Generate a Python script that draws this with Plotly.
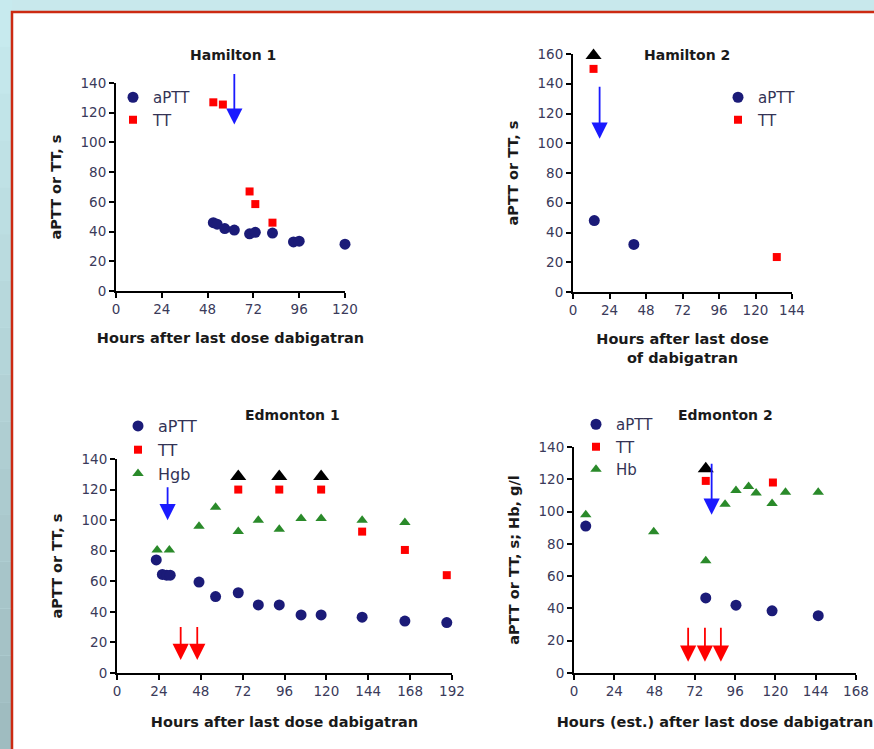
import plotly.graph_objects as go

W, H = 874, 749

# ---------------- data ----------------
h1_aptt_x = [51, 53, 57, 62, 70, 73, 82, 93, 96, 120]
h1_aptt_y = [46, 45, 42, 41, 38.5, 39.5, 39, 33, 33.5, 31.5]
h1_tt_x = [51, 56, 70, 73, 82]
h1_tt_y = [127, 125.5, 67, 58.5, 46]
h1_blue_arrow = dict(x=[62], y_from=[147], y_to=[112])

h2_aptt_x = [14, 40]
h2_aptt_y = [48, 32]
h2_tt_x = [13.5, 134]
h2_tt_y = [150, 23.5]
h2_over_x = [13.5]
h2_over_y = [159]
h2_blue_arrow = dict(x=[17.5], y_from=[139], y_to=[103])

e1_aptt_x = [22.5, 26, 28.5, 30.5, 47, 56.5, 69.5, 81, 93, 105.5, 117, 140.5, 165, 189]
e1_aptt_y = [74, 64.5, 64, 64, 59.5, 50, 52.5, 44.5, 44.5, 38, 38, 36.5, 34, 33]
e1_tt_x = [69.5, 93, 117, 140.5, 165, 189]
e1_tt_y = [120, 120, 120, 92.5, 80.5, 64]
e1_hgb_x = [23, 30, 47, 56.5, 69.5, 81, 93, 105.5, 117, 140.5, 165]
e1_hgb_y = [80.5, 80.5, 96, 108.5, 92.5, 100, 94, 101, 101, 100, 98.5]
e1_over_x = [69.5, 93, 117]
e1_over_y = [128.5, 128.5, 128.5]
e1_blue_arrow = dict(x=[29], y_from=[122.5], y_to=[100])
e1_red_arrows = dict(x=[36.5, 46], y_from=[31, 31], y_to=[8.5, 8.5])

e2_aptt_x = [7, 78.5, 96.5, 118, 145.5]
e2_aptt_y = [91, 46.5, 42, 38.5, 35.5]
e2_tt_x = [78.5, 118.5]
e2_tt_y = [119, 118]
e2_hb_x = [7, 47.5, 78.5, 90, 96.5, 104, 108.5, 118, 126, 145.5]
e2_hb_y = [98, 87.5, 69.5, 104.5, 113, 115.5, 111.5, 105, 112, 112]
e2_over_x = [78.5]
e2_over_y = [126.5]
e2_blue_arrow = dict(x=[82], y_from=[130.5], y_to=[98])
e2_red_arrows = dict(x=[68, 78, 87.5], y_from=[29, 29, 29], y_to=[7, 7, 7])

ticks_h1 = [0, 24, 48, 72, 96, 120]
ticks_h2 = [0, 24, 48, 72, 96, 120, 144]
ticks_e1 = [0, 24, 48, 72, 96, 120, 144, 168, 192]
ticks_e2 = [0, 24, 48, 72, 96, 120, 144, 168]
yt_140 = [0, 20, 40, 60, 80, 100, 120, 140]
yt_160 = [0, 20, 40, 60, 80, 100, 120, 140, 160]

# ---------------- styles ----------------
NAVY = "#1b1b78"
RED = "#ff0000"
GREEN = "#2a8a2a"
BLUE = "#1a1aff"
FONT = "DejaVu Sans, Liberation Sans, Arial, sans-serif"
TICKC = "#3a3a5a"


def px_x(p):
    return p / W


def px_y(p):
    return 1 - p / H


fig = go.Figure()


def add_series(x, y, name, color, symbol, size, xa, ya, legend, showlegend=True):
    fig.add_trace(go.Scatter(
        x=x, y=y, mode="markers", name=name,
        marker=dict(color=color, symbol=symbol, size=size, line=dict(width=0)),
        xaxis=xa, yaxis=ya, legend=legend, showlegend=showlegend,
        cliponaxis=False, hoverinfo="x+y+name"))


# Hamilton 1
add_series(h1_aptt_x, h1_aptt_y, "aPTT", NAVY, "circle", 11, "x", "y", "legend")
add_series(h1_tt_x, h1_tt_y, "TT", RED, "square", 8, "x", "y", "legend")
# Hamilton 2
add_series(h2_aptt_x, h2_aptt_y, "aPTT", NAVY, "circle", 11, "x2", "y2", "legend2")
add_series(h2_tt_x, h2_tt_y, "TT", RED, "square", 8, "x2", "y2", "legend2")
add_series(h2_over_x, h2_over_y, "TT >", "black", "triangle-up", 14, "x2", "y2", "legend2", False)
# Edmonton 1
add_series(e1_aptt_x, e1_aptt_y, "aPTT", NAVY, "circle", 11, "x3", "y3", "legend3")
add_series(e1_tt_x, e1_tt_y, "TT", RED, "square", 8, "x3", "y3", "legend3")
add_series(e1_hgb_x, e1_hgb_y, "Hgb", GREEN, "triangle-up", 10, "x3", "y3", "legend3")
add_series(e1_over_x, e1_over_y, "TT >", "black", "triangle-up", 14, "x3", "y3", "legend3", False)
# Edmonton 2
add_series(e2_aptt_x, e2_aptt_y, "aPTT", NAVY, "circle", 11, "x4", "y4", "legend4")
add_series(e2_tt_x, e2_tt_y, "TT", RED, "square", 8, "x4", "y4", "legend4")
add_series(e2_hb_x, e2_hb_y, "Hb", GREEN, "triangle-up", 10, "x4", "y4", "legend4")
add_series(e2_over_x, e2_over_y, "TT >", "black", "triangle-up", 14, "x4", "y4", "legend4", False)


def axis_common(**kw):
    d = dict(showline=True, linecolor="black", linewidth=2, ticks="outside",
             ticklen=5, tickwidth=1.5, tickcolor="black", showgrid=False,
             zeroline=False, tickfont=dict(family=FONT, size=13.5, color=TICKC),
             autorange=False, fixedrange=True, automargin=False)
    d.update(kw)
    return d


def title_font():
    return dict(family=FONT, size=14.5, color="#1a1a1a", weight="bold")


layout_axes = {}
# Hamilton 1
layout_axes["xaxis"] = axis_common(domain=[px_x(116), px_x(345)], range=[0, 120],
                                   tickvals=ticks_h1, anchor="y",
                                   title=dict(text="Hours after last dose dabigatran",
                                              font=title_font(), standoff=17))
layout_axes["yaxis"] = axis_common(domain=[px_y(291), px_y(83)], range=[0, 140],
                                   tickvals=yt_140, anchor="x",
                                   title=dict(text="aPTT or TT, s", font=title_font(), standoff=15))
# Hamilton 2
layout_axes["xaxis2"] = axis_common(domain=[px_x(573), px_x(792)], range=[0, 144],
                                    tickvals=ticks_h2, anchor="y2",
                                    title=dict(text="Hours after last dose<br>of dabigatran",
                                               font=title_font(), standoff=17))
layout_axes["yaxis2"] = axis_common(domain=[px_y(292), px_y(54)], range=[0, 160],
                                    tickvals=yt_160, anchor="x2",
                                    title=dict(text="aPTT or TT, s", font=title_font(), standoff=15))
# Edmonton 1
layout_axes["xaxis3"] = axis_common(domain=[px_x(117), px_x(452)], range=[0, 192],
                                    tickvals=ticks_e1, anchor="y3",
                                    title=dict(text="Hours after last dose dabigatran",
                                               font=title_font(), standoff=19))
layout_axes["yaxis3"] = axis_common(domain=[px_y(673), px_y(459)], range=[0, 140],
                                    tickvals=yt_140, anchor="x3",
                                    title=dict(text="aPTT or TT, s", font=title_font(), standoff=15))
# Edmonton 2
layout_axes["xaxis4"] = axis_common(domain=[px_x(574), px_x(856)], range=[0, 168],
                                    tickvals=ticks_e2, anchor="y4",
                                    title=dict(text="Hours (est.) after last dose dabigatran",
                                               font=title_font(), standoff=19))
layout_axes["yaxis4"] = axis_common(domain=[px_y(673), px_y(447)], range=[0, 140],
                                    tickvals=yt_140, anchor="x4",
                                    title=dict(text="aPTT or TT, s; Hb, g/l", font=title_font(), standoff=15))

# arrows
annotations = []


def add_arrows(spec, color, xref, yref):
    for x, y0, y1 in zip(spec["x"], spec["y_from"], spec["y_to"]):
        annotations.append(dict(
            x=x, y=y1, ax=x, ay=y0, xref=xref, yref=yref, axref=xref, ayref=yref,
            text="", showarrow=True, arrowhead=2, arrowsize=1.8, arrowwidth=1.8,
            arrowcolor=color, standoff=0))


add_arrows(h1_blue_arrow, BLUE, "x", "y")
add_arrows(h2_blue_arrow, BLUE, "x2", "y2")
add_arrows(e1_blue_arrow, BLUE, "x3", "y3")
add_arrows(e1_red_arrows, RED, "x3", "y3")
add_arrows(e2_blue_arrow, BLUE, "x4", "y4")
add_arrows(e2_red_arrows, RED, "x4", "y4")

# subplot titles
for txt, cx, cy in [("Hamilton 1", 233, 55), ("Hamilton 2", 687, 55),
                    ("Edmonton 1", 292, 415), ("Edmonton 2", 725, 415)]:
    annotations.append(dict(text=txt, x=px_x(cx), y=px_y(cy), xref="paper", yref="paper",
                            xanchor="center", yanchor="middle", showarrow=False,
                            font=dict(family=FONT, size=14, color="#1a1a1a", weight="bold")))


def legend_at(lx, ly, size=15):
    return dict(x=px_x(lx), y=px_y(ly), xanchor="left", yanchor="top",
                bgcolor="rgba(0,0,0,0)", borderwidth=0,
                font=dict(family=FONT, size=size, color="#333355"),
                itemsizing="trace", tracegroupgap=0)


# frame: gradient strip on the left, red-bordered white panel
shapes = []
n_strips = 16
top_rgb = (200, 236, 240)
bot_rgb = (158, 186, 190)
for i in range(n_strips):
    t = (i + 0.5) / n_strips
    c = tuple(int(round(a + (b - a) * t)) for a, b in zip(top_rgb, bot_rgb))
    shapes.append(dict(type="rect", xref="paper", yref="paper",
                       x0=0, x1=px_x(12), y0=1 - (i + 1) / n_strips, y1=1 - i / n_strips,
                       line=dict(width=0), fillcolor="rgb(%d,%d,%d)" % c, layer="below"))
shapes.append(dict(type="rect", xref="paper", yref="paper", x0=px_x(12), x1=1.2,
                   y0=-0.2, y1=px_y(12), line=dict(color="#cc2a12", width=2.5),
                   fillcolor="white", layer="below"))

fig.update_layout(
    width=W, height=H,
    margin=dict(l=0, r=0, t=0, b=0, autoexpand=False),
    paper_bgcolor="#c8e8ec",
    plot_bgcolor="rgba(0,0,0,0)",
    font=dict(family=FONT),
    showlegend=True,
    legend=legend_at(113, 81),
    legend2=legend_at(718, 81),
    legend3=legend_at(118, 409, 16),
    legend4=legend_at(576, 408),
    annotations=annotations,
    shapes=shapes,
    **layout_axes,
)

fig.write_html("out.html")
